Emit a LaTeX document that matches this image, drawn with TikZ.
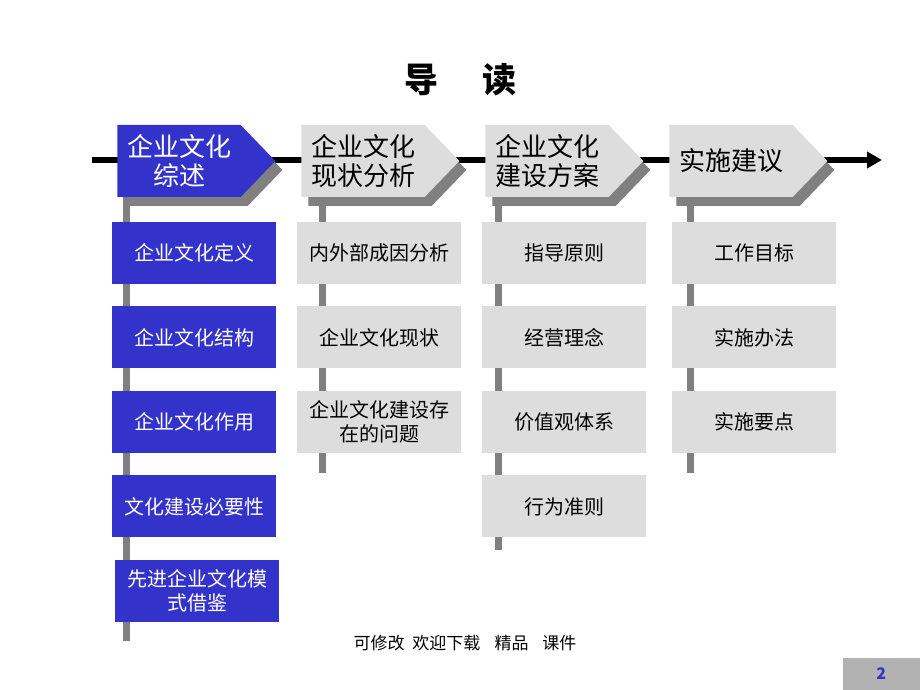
\documentclass[tikz,border=0pt]{standalone}
\usepackage{fontspec}
\setmainfont{Noto Sans CJK SC}
\usetikzlibrary{backgrounds}
\usetikzlibrary{shapes,shadows,arrows.meta,positioning}
\definecolor{hdrblue}{RGB}{51,51,204}
\definecolor{boxgray}{RGB}{221,221,221}
\definecolor{shadegray}{RGB}{128,128,128}
\definecolor{pagegray}{RGB}{178,178,178}
\tikzstyle{line} = [draw, line width=6pt, -{Triangle[length=15pt,width=16pt]}]
\tikzstyle{stem} = [draw, shadegray, line width=7pt]
\tikzstyle{hdr} = [signal, signal to=east, signal pointer angle=92, fill=boxgray, minimum width=158pt, minimum height=72pt, inner sep=0pt, align=center, font=\fontsize{26}{29}\selectfont, node distance=184pt, drop shadow={shadow xshift=7pt, shadow yshift=-9pt, fill=shadegray, opacity=1}]
\tikzstyle{hdr_sel} = [hdr, fill=hdrblue, text=white]
\tikzstyle{item} = [rectangle, fill=boxgray, minimum width=164pt, minimum height=62pt, inner sep=0pt, align=center, font=\fontsize{20}{24}\selectfont, node distance=84.5pt]
\tikzstyle{item_sel} = [item, fill=hdrblue, text=white]

\begin{document}
\begin{tikzpicture}[x=1pt, y=1pt]
\useasboundingbox (0,0) rectangle (920,690);

\node [font=\fontsize{34}{34}\selectfont\bfseries] (title) at (460,610) {导\hspace{44pt}读};

% time line
\coordinate (lstart) at (92,530);
\coordinate (lend) at (882,530);
\path [line] (lstart) to (lend);

\node [hdr_sel] (hdr1) at (179,529) {企业文化\\综述};
\node [hdr, right of = hdr1] (hdr2) {企业文化\\现状分析};
\node [hdr, right of = hdr2] (hdr3) {企业文化\\建设方案};
\node [hdr, right of = hdr3] (hdr4) {实施建议};

% stems
\coordinate (s1) at ([xshift=9pt]hdr1.west);
\coordinate [below of = s1, node distance = 480pt] (s1end);
\coordinate (s2) at ([xshift=21pt]hdr2.west);
\coordinate [below of = s2, node distance = 312pt] (s2end);
\coordinate (s3) at ([xshift=13pt]hdr3.west);
\coordinate [below of = s3, node distance = 389pt] (s3end);
\coordinate (s4) at ([xshift=21pt]hdr4.west);
\coordinate [below of = s4, node distance = 312pt] (s4end);
\begin{pgfonlayer}{background}
\path [stem] (s1) to (s1end);
\path [stem] (s2) to (s2end);
\path [stem] (s3) to (s3end);
\path [stem] (s4) to (s4end);
\end{pgfonlayer}

\node [item_sel, below of = hdr1, node distance = 92pt, xshift=15pt] (def) {企业文化定义};
\node [item_sel, below of = def] (struc) {企业文化结构};
\node [item_sel, below of = struc] (role) {企业文化作用};
\node [item_sel, below of = role] (need) {文化建设必要性};
\node [item_sel, below of = need, xshift=3pt] (model) {先进企业文化模\\式借鉴};

\node [item, below of = hdr2, node distance = 92pt, xshift=16pt] (cause) {内外部成因分析};
\node [item, below of = cause] (now) {企业文化现状};
\node [item, below of = now] (issue) {企业文化建设存\\在的问题};

\node [item, below of = hdr3, node distance = 92pt, xshift=17pt] (rule) {指导原则};
\node [item, below of = rule] (idea) {经营理念};
\node [item, below of = idea] (value) {价值观体系};
\node [item, below of = value] (norm) {行为准则};

\node [item, below of = hdr4, node distance = 92pt, xshift=23pt] (goal) {工作目标};
\node [item, below of = goal] (method) {实施办法};
\node [item, below of = method] (point) {实施要点};

\node [font=\fontsize{17}{17}\selectfont] (foot) at (465,47) {可修改\hspace{8pt}欢迎下载\hspace{14pt}精品\hspace{14pt}课件};
\node [fill=pagegray, minimum width=77pt, minimum height=32pt, anchor=south east, text=hdrblue, font=\fontsize{16}{16}\selectfont\bfseries] (page) at (920,0) {2};
\end{tikzpicture}
\end{document}
